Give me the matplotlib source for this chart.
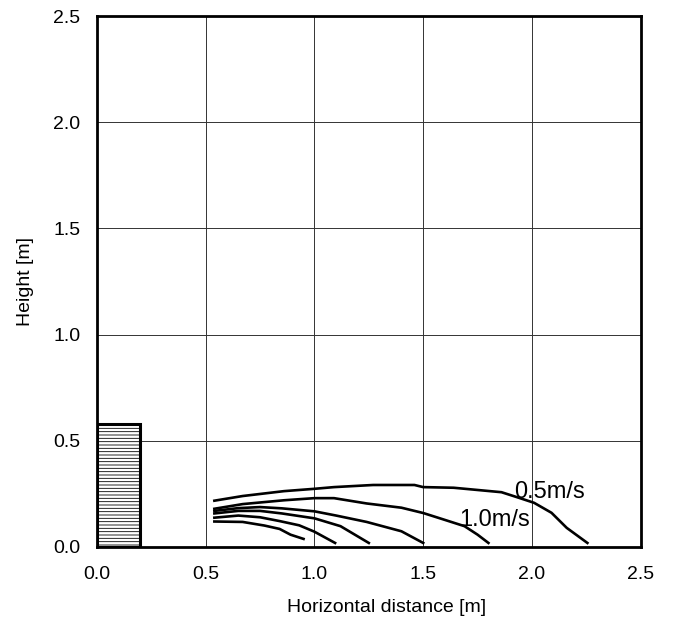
import matplotlib
matplotlib.use('Agg')
import matplotlib.pyplot as plt
from matplotlib.patches import Rectangle

plt.rcParams['font.family'] = ['Liberation Sans', 'DejaVu Sans']
plt.rcParams['hatch.color'] = '#777777'
plt.rcParams['hatch.linewidth'] = 0.6

# trajectories, one per outlet velocity
x_a = [0.54, 0.67, 0.86, 1.00, 1.09, 1.27, 1.46, 1.50, 1.64, 1.86, 1.93, 2.01, 2.09, 2.16, 2.255]
y_a = [0.218, 0.240, 0.263, 0.274, 0.282, 0.292, 0.292, 0.282, 0.279, 0.258, 0.235, 0.208, 0.161, 0.090, 0.019]

x_b = [0.54, 0.67, 0.86, 1.00, 1.09, 1.24, 1.40, 1.50, 1.58, 1.69, 1.75, 1.80]
y_b = [0.180, 0.202, 0.220, 0.230, 0.230, 0.205, 0.185, 0.160, 0.134, 0.098, 0.058, 0.019]

x_c = [0.54, 0.65, 0.75, 0.85, 1.00, 1.10, 1.24, 1.40, 1.50]
y_c = [0.170, 0.183, 0.188, 0.182, 0.168, 0.148, 0.118, 0.074, 0.019]

x_d = [0.54, 0.65, 0.75, 0.85, 1.00, 1.12, 1.25]
y_d = [0.158, 0.170, 0.170, 0.158, 0.135, 0.098, 0.019]

x_e = [0.54, 0.65, 0.75, 0.84, 0.93, 1.00, 1.095]
y_e = [0.138, 0.148, 0.140, 0.122, 0.102, 0.072, 0.019]

x_f = [0.54, 0.67, 0.77, 0.84, 0.89, 0.95]
y_f = [0.120, 0.118, 0.101, 0.085, 0.058, 0.038]

curves = [(x_a, y_a), (x_b, y_b), (x_c, y_c), (x_d, y_d), (x_e, y_e), (x_f, y_f)]

box_w = 0.2
box_h = 0.58

ticks = [0.0, 0.5, 1.0, 1.5, 2.0, 2.5]


def main():
	fig = plt.figure(figsize=(6.73, 6.22), dpi=100)
	ax = fig.add_axes([0.144, 0.1206, 0.808, 0.8534])

	ax.add_patch(Rectangle((0, 0), box_w, box_h, facecolor='white',
		edgecolor='black', linewidth=2.2, hatch='-----', zorder=3))

	for xs, ys in curves:
		ax.plot(xs, ys, color='black', linewidth=1.9, zorder=4)

	ax.text(2.08, 0.257, '0.5m/s', fontsize=17, ha='center', va='center')
	ax.text(1.83, 0.128, '1.0m/s', fontsize=17, ha='center', va='center')

	ax.set_xlim(0, 2.5)
	ax.set_ylim(0, 2.5)
	ax.set_xticks(ticks)
	ax.set_yticks(ticks)
	ax.set_xticklabels(['%.1f' % t for t in ticks])
	ax.set_yticklabels(['%.1f' % t for t in ticks])
	ax.tick_params(length=0, labelsize=14)
	ax.tick_params(axis='x', pad=14)
	ax.tick_params(axis='y', pad=12)
	ax.grid(True, color='#333333', linewidth=0.7)
	ax.set_axisbelow(True)
	for s in ax.spines.values():
		s.set_linewidth(2.0)

	ax.set_xlabel('Horizontal distance [m]', fontsize=14, labelpad=12)
	ax.set_ylabel('Height [m]', fontsize=14, labelpad=14)
	ax.xaxis.set_label_coords(0.533, -0.098)

	fig.savefig('out.png', dpi=100)


if __name__ == '__main__':
	main()
